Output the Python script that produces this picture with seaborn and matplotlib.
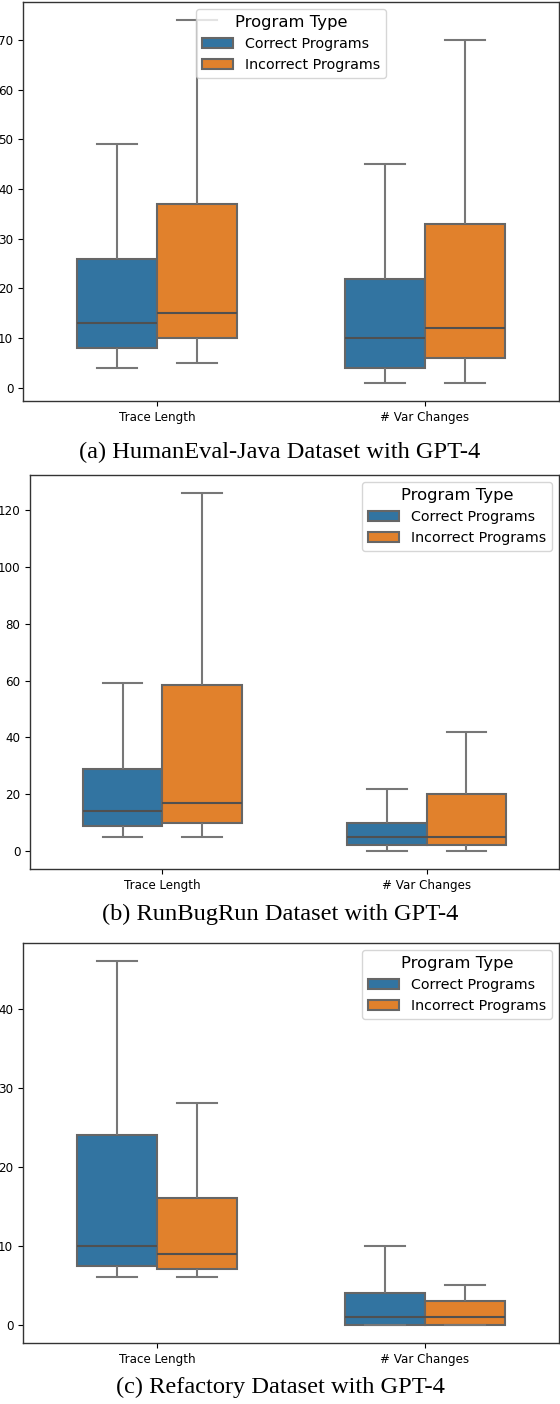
import numpy as np
import pandas as pd
import seaborn as sns
import matplotlib
matplotlib.use("Agg")
import matplotlib.pyplot as plt

# five-number summaries: [min, q1, median, q3, max]
metrics = ["Trace Length", "# Var Changes"]
program_types = ["Correct Programs", "Incorrect Programs"]

humaneval_trace_correct = [4, 8, 13, 26, 49]
humaneval_trace_incorrect = [5, 10, 15, 37, 74]
humaneval_var_correct = [1, 4, 10, 22, 45]
humaneval_var_incorrect = [1, 6, 12, 33, 70]

runbugrun_trace_correct = [5, 9, 14, 29, 59]
runbugrun_trace_incorrect = [5, 10, 17, 58.5, 126]
runbugrun_var_correct = [0, 2, 5, 10, 22]
runbugrun_var_incorrect = [0, 2, 5, 20, 42]

refactory_trace_correct = [6, 7.5, 10, 24, 46]
refactory_trace_incorrect = [6, 7, 9, 16, 28]
refactory_var_correct = [0, 0, 1, 4, 10]
refactory_var_incorrect = [0, 0, 1, 3, 5]

captions = [
    "(a) HumanEval-Java Dataset with GPT-4",
    "(b) RunBugRun Dataset with GPT-4",
    "(c) Refactory Dataset with GPT-4",
]


def make_frame(tc, ti, vc, vi):
    rows = []
    for metric, ptype, vals in [
        (metrics[0], program_types[0], tc),
        (metrics[0], program_types[1], ti),
        (metrics[1], program_types[0], vc),
        (metrics[1], program_types[1], vi),
    ]:
        for v in vals:
            rows.append({"Metric": metric, "Program Type": ptype, "Value": v})
    return pd.DataFrame(rows)


frames = [
    make_frame(humaneval_trace_correct, humaneval_trace_incorrect,
               humaneval_var_correct, humaneval_var_incorrect),
    make_frame(runbugrun_trace_correct, runbugrun_trace_incorrect,
               runbugrun_var_correct, runbugrun_var_incorrect),
    make_frame(refactory_trace_correct, refactory_trace_incorrect,
               refactory_var_correct, refactory_var_incorrect),
]

fig = plt.figure(figsize=(5.6, 14.04), dpi=100)

# axes rectangles in figure fractions
rects = [
    [23 / 560, 1 - 401 / 1404, 536 / 560, 399 / 1404],
    [30 / 560, 1 - 869 / 1404, 529 / 560, 394 / 1404],
    [23 / 560, 1 - 1343 / 1404, 536 / 560, 400 / 1404],
]
caption_y = [452, 914, 1387]
legend_locs = ["upper center", "upper right", "upper right"]

for df, rect, cap, cy, loc in zip(frames, rects, captions, caption_y, legend_locs):
    ax = fig.add_axes(rect)
    sns.boxplot(data=df, x="Metric", y="Value", hue="Program Type",
                order=metrics, hue_order=program_types,
                whis=np.inf, width=0.6, showfliers=False,
                linewidth=1.5, linecolor="#666666",
                medianprops={"color": "#505050"},
                whiskerprops={"color": "#777777"},
                capprops={"color": "#777777"}, ax=ax)
    ax.set_xlabel("")
    ax.set_ylabel("")
    ax.tick_params(axis="both", labelsize=8.6)
    for s in ax.spines.values():
        s.set_linewidth(1.0)
        s.set_color("#333333")
    leg = ax.legend(title="Program Type", loc=loc, fontsize=10.3,
                    title_fontsize=11.8, handlelength=2.2)
    fig.text(0.5, 1 - cy / 1404, cap, ha="center", va="center",
             fontsize=17.6, family="Liberation Serif")

fig.savefig("out.png", dpi=100)
